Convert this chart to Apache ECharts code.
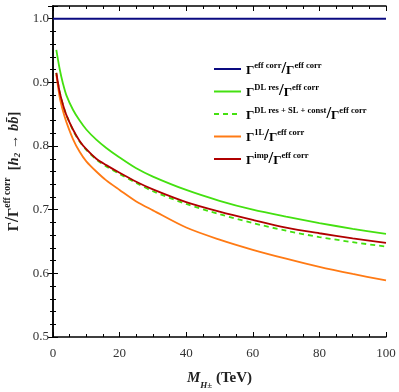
<!DOCTYPE html>
<html><head><meta charset="utf-8">
<script src="https://cdn.jsdelivr.net/npm/echarts@6/dist/echarts.min.js"></script>
<style>html,body{margin:0;padding:0;background:#fff}#c{width:399px;height:392px}</style>
</head><body><div id="c"></div>
<script>
const mass = [1,2,3,4,6,8,10,13,16,20,25,30,40,50,60,70,80,90,100];
const effMass = [0,100];
const effCorr = [1.0,1.0];
const dlRes = [0.951,0.921,0.898,0.880,0.857,0.840,0.826,0.810,0.797,0.782,0.765,0.752,0.731,0.714,0.700,0.689,0.679,0.670,0.662];
const dlResSL = [0.915,0.885,0.865,0.849,0.825,0.807,0.794,0.779,0.768,0.756,0.742,0.729,0.709,0.693,0.679,0.667,0.657,0.649,0.642];
const oneLoop = [0.912,0.877,0.855,0.838,0.811,0.791,0.776,0.760,0.746,0.731,0.713,0.699,0.672,0.653,0.637,0.623,0.610,0.599,0.589];
const imp = [0.915,0.885,0.865,0.849,0.826,0.808,0.795,0.780,0.770,0.758,0.744,0.732,0.712,0.697,0.684,0.672,0.663,0.655,0.648];
const xTicks = [0,20,40,60,80,100];
const yTicks = [0.5,0.6,0.7,0.8,0.9,1.0];

const serif = 'Liberation Serif';
const pair = (xs, ys) => xs.map((x,i)=>[x,ys[i]]);
const names = ['effcorr','dlres','dlressl','oneloop','imp'];
const legendRich = {
  g:{fontFamily:serif,fontWeight:'bold',fontSize:13,lineHeight:16,verticalAlign:'bottom',color:'#000'},
  s:{fontFamily:serif,fontWeight:'bold',fontSize:8.5,lineHeight:16,verticalAlign:'top',color:'#000'},
  sl:{fontFamily:serif,fontWeight:'bold',fontSize:17,lineHeight:16,verticalAlign:'bottom',color:'#000'}
};
const legendText = {
  effcorr:'{g|Γ}{s|eff corr}{sl|/}{g|Γ}{s|eff corr}',
  dlres:'{g|Γ}{s|DL res}{sl|/}{g|Γ}{s|eff corr}',
  dlressl:'{g|Γ}{s|DL res + SL + const}{sl|/}{g|Γ}{s|eff corr}',
  oneloop:'{g|Γ}{s|1L}{sl|/}{g|Γ}{s|eff corr}',
  imp:'{g|Γ}{s|imp}{sl|/}{g|Γ}{s|eff corr}'
};
const chart = echarts.init(document.getElementById('c'));
const axisLine = {show:true,lineStyle:{color:'#000',width:1.5}};
const mkSeries = (name, xs, ys, color, dashed) => ({
  name, type:'line', data:pair(xs,ys), smooth:0.3, symbol:'none',
  lineStyle:{color, width:1.8, type: dashed ? [5,4] : 'solid'},
  itemStyle:{color}
});
chart.setOption({
  animation:false,
  grid:{left:53,right:13,top:6,bottom:55,containLabel:false,outerBoundsMode:'none'},
  legend:{
    orient:'vertical', left:208, top:55, itemWidth:27, itemHeight:12, itemGap:5.5,
    itemStyle:{opacity:0},
    data:names, formatter:n=>legendText[n], textStyle:{rich:legendRich}
  },
  xAxis:[{
    type:'value', min:0, max:100, interval:20, position:'bottom',
    axisLine, splitLine:{show:false},
    axisTick:{inside:true,length:5,lineStyle:{color:'#000'}},
    minorTick:{show:true,splitNumber:4,length:3,lineStyle:{color:'#000'}},
    axisLabel:{fontFamily:serif,fontSize:13,color:'#333',margin:10},
    name:'{m|M}{h|H±}{t| (TeV)}', nameLocation:'middle', nameGap:34,
    nameTextStyle:{rich:{
      m:{fontFamily:serif,fontStyle:'italic',fontWeight:'bold',fontSize:15,verticalAlign:'top',lineHeight:19,color:'#222'},
      h:{fontFamily:serif,fontStyle:'italic',fontWeight:'bold',fontSize:9,verticalAlign:'bottom',lineHeight:19,color:'#222'},
      t:{fontFamily:serif,fontWeight:'bold',fontSize:15,verticalAlign:'top',lineHeight:19,color:'#222'}
    }}
  },{
    type:'value', min:0, max:100, interval:20, position:'top',
    axisLine, splitLine:{show:false}, axisLabel:{show:false},
    axisTick:{inside:true,length:5,lineStyle:{color:'#000'}},
    minorTick:{show:true,splitNumber:4,length:3,lineStyle:{color:'#000'}}
  }],
  yAxis:[{
    type:'value', min:0.5, max:1.02, interval:0.1, position:'left',
    axisLine, splitLine:{show:false},
    axisTick:{inside:true,length:5,lineStyle:{color:'#000'}},
    minorTick:{show:true,splitNumber:5,length:3,lineStyle:{color:'#000'}},
    axisLabel:{fontFamily:serif,fontSize:13,color:'#333',margin:4,showMaxLabel:false,
      formatter:v=>yTicks.some(t=>Math.abs(t-v)<1e-6)?v.toFixed(1):''},
    name:'{g|Γ}{sl|/}{g|Γ}{s|eff corr}{g|  [}{i|h}{sub|2}{g| → }{i|b}{i|b̄}{g|]}',
    nameLocation:'middle', nameGap:30, nameRotate:90,
    nameTextStyle:{rich:{
      g:{fontFamily:serif,fontWeight:'bold',fontSize:14.5,lineHeight:19,verticalAlign:'bottom',color:'#222'},
      sl:{fontFamily:serif,fontWeight:'bold',fontSize:18,lineHeight:19,verticalAlign:'bottom',color:'#222'},
      s:{fontFamily:serif,fontWeight:'bold',fontSize:9.5,lineHeight:19,verticalAlign:'top',color:'#222'},
      i:{fontFamily:serif,fontStyle:'italic',fontWeight:'bold',fontSize:14.5,lineHeight:19,verticalAlign:'bottom',color:'#222'},
      sub:{fontFamily:serif,fontStyle:'italic',fontWeight:'bold',fontSize:9,lineHeight:19,verticalAlign:'bottom',color:'#222'}
    }}
  },{
    type:'value', min:0.5, max:1.02, interval:0.1, position:'right',
    axisLine, splitLine:{show:false}, axisLabel:{show:false},
    axisTick:{inside:true,length:5,lineStyle:{color:'#000'}},
    minorTick:{show:true,splitNumber:5,length:3,lineStyle:{color:'#000'}}
  }],
  series:[
    mkSeries('effcorr', effMass, effCorr, '#0a0a80', false),
    mkSeries('dlres', mass, dlRes, '#44e010', false),
    mkSeries('dlressl', mass, dlResSL, '#44e010', true),
    mkSeries('oneloop', mass, oneLoop, '#ff7a14', false),
    mkSeries('imp', mass, imp, '#b00000', false)
  ]
});
</script></body></html>
